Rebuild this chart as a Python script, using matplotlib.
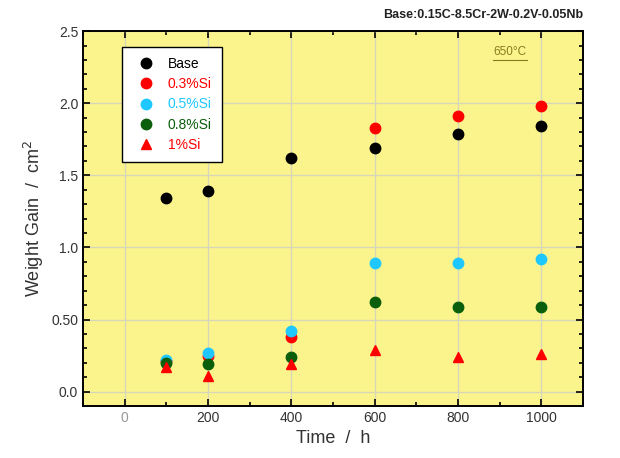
import matplotlib
matplotlib.use("Agg")
import matplotlib.pyplot as plt
from matplotlib.ticker import MultipleLocator, FixedLocator

time_h = [100, 200, 400, 600, 800, 1000]
base = [1.34, 1.39, 1.62, 1.69, 1.79, 1.84]
si03 = [0.21, 0.25, 0.38, 1.83, 1.91, 1.98]
si05 = [0.22, 0.27, 0.42, 0.89, 0.89, 0.92]
si08 = [0.20, 0.19, 0.24, 0.62, 0.59, 0.59]
si10 = [0.17, 0.11, 0.19, 0.29, 0.24, 0.26]

x_ticks = [0, 200, 400, 600, 800, 1000]
y_ticks = [0.0, 0.5, 1.0, 1.5, 2.0, 2.5]
y_ticklabels = ["0.0", "0.50", "1.0", "1.5", "2.0", "2.5"]

plt.rcParams['font.family'] = ['Liberation Sans', 'DejaVu Sans']

fig = plt.figure(figsize=(6.2, 4.58), dpi=100)
ax = fig.add_axes([0.134, 0.1135, 0.806, 0.8185])
ax.set_facecolor('#FBF48C')

ax.grid(True, which='major', color='#D8D6B8', linewidth=1.0)
ax.set_axisbelow(True)

ms = 7.5
ax.plot(time_h, base, 'o', color='black', ms=ms, label='Base', zorder=3)
ax.plot(time_h, si03, 'o', color='#FF0000', ms=ms, label='0.3%Si', zorder=3)
ax.plot(time_h, si05, 'o', color='#1EC8FF', ms=ms, label='0.5%Si', zorder=3)
ax.plot(time_h, si08, 'o', color='#0B5E0B', ms=ms, label='0.8%Si', zorder=3)
ax.plot(time_h, si10, '^', color='#FF0000', ms=ms, label='1%Si', zorder=3)

ax.set_xlim(-100, 1100)
ax.set_ylim(-0.1, 2.5)
ax.xaxis.set_major_locator(FixedLocator(x_ticks))
ax.xaxis.set_minor_locator(MultipleLocator(100))
ax.yaxis.set_major_locator(FixedLocator(y_ticks))
ax.yaxis.set_minor_locator(MultipleLocator(0.1))
ax.set_yticklabels(y_ticklabels)
ax.tick_params(which='both', direction='in', top=True, right=True, labelsize=10,
               width=1.2, labelcolor='#333333')
ax.tick_params(which='major', length=5)
ax.tick_params(which='minor', length=3)
for lbl in ax.get_xticklabels():
    if lbl.get_text() == '0':
        lbl.set_color('#999999')
for sp in ax.spines.values():
    sp.set_linewidth(1.4)

ax.set_xlabel('Time  /  h', fontsize=13, color='#333333')
ax.set_ylabel('Weight Gain  /  cm$^2$', fontsize=13, color='#333333')

leg = ax.legend(loc='upper left', bbox_to_anchor=(0.078, 0.957), borderaxespad=0,
                frameon=True, fancybox=False, edgecolor='black', framealpha=1.0,
                fontsize=10, handletextpad=0.6, borderpad=0.7, labelspacing=0.45)
leg.get_frame().set_linewidth(1.0)
colors = ['black', '#FF0000', '#1EC8FF', '#0B5E0B', '#FF0000']
for t, c in zip(leg.get_texts(), colors):
    t.set_color(c)

fig.text(0.94, 0.955, 'Base:0.15C-8.5Cr-2W-0.2V-0.05Nb', ha='right', va='bottom',
         fontsize=9, fontweight='bold', color='#222222')
ax.text(0.854, 0.944, '650°C', transform=ax.transAxes, fontsize=8.5,
        color='#8A7A20', ha='center', va='center')
ax.plot([0.82, 0.888], [0.922, 0.922], transform=ax.transAxes, color='#8A7A20', lw=0.8)

fig.savefig('out.png', dpi=100)
